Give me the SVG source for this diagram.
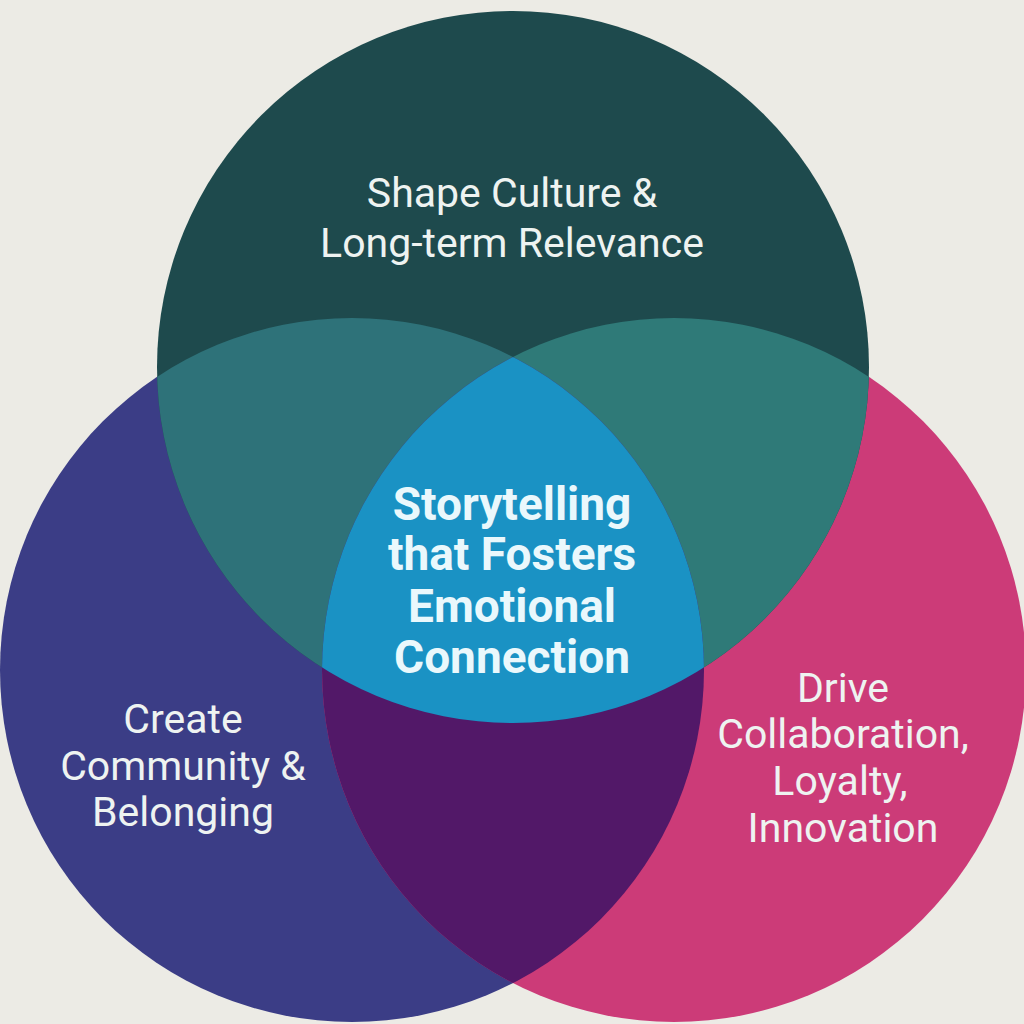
<svg xmlns="http://www.w3.org/2000/svg" width="1024" height="1024" viewBox="0 0 1024 1024">
<defs>
<clipPath id="clipTop"><circle cx="513" cy="367" r="356"/></clipPath>
<clipPath id="clipLeft"><circle cx="352" cy="670" r="352"/></clipPath>
<clipPath id="clipRight"><circle cx="674" cy="670" r="352"/></clipPath>
<style>
.lbl{font-family:Roboto,"Liberation Sans",sans-serif;font-size:41px;fill:#eef3f1;text-anchor:middle}
.ctr{font-family:Roboto,"Liberation Sans",sans-serif;font-size:46px;font-weight:bold;fill:#eaf8fc;text-anchor:middle}
</style>
</defs>
<rect width="1024" height="1024" fill="#ecebe5"/>
<g id="circle-left"><circle cx="352" cy="670" r="352" fill="#3b3d86"/></g>
<g id="circle-right"><circle cx="674" cy="670" r="352" fill="#cc3b78"/></g>
<g id="circle-top"><circle cx="513" cy="367" r="356" fill="#1e4a4d"/></g>
<g id="overlaps">
<g clip-path="url(#clipTop)"><circle cx="352" cy="670" r="352" fill="#2e7279"/></g>
<g clip-path="url(#clipTop)"><circle cx="674" cy="670" r="352" fill="#2f7a78"/></g>
<g clip-path="url(#clipLeft)"><circle cx="674" cy="670" r="352" fill="#521868"/></g>
<g clip-path="url(#clipTop)"><g clip-path="url(#clipLeft)"><circle cx="674" cy="670" r="352" fill="#1a92c4"/></g></g>
</g>
<g id="connectors"></g>
<g id="label-top"><text class="lbl" x="512" y="207">Shape Culture &amp;</text><text class="lbl" x="512" y="257">Long-term Relevance</text></g>
<g id="label-left"><text class="lbl" x="183" y="733">Create</text><text class="lbl" x="183" y="780">Community &amp;</text><text class="lbl" x="183" y="826">Belonging</text></g>
<g id="label-right"><text class="lbl" x="843" y="702">Drive</text><text class="lbl" x="843" y="748">Collaboration,</text><text class="lbl" x="840" y="795">Loyalty,</text><text class="lbl" x="843" y="842">Innovation</text></g>
<g id="label-center"><text class="ctr" x="512" y="520">Storytelling</text><text class="ctr" x="512" y="570">that Fosters</text><text class="ctr" x="512" y="622">Emotional</text><text class="ctr" x="512" y="673">Connection</text></g>
</svg>
